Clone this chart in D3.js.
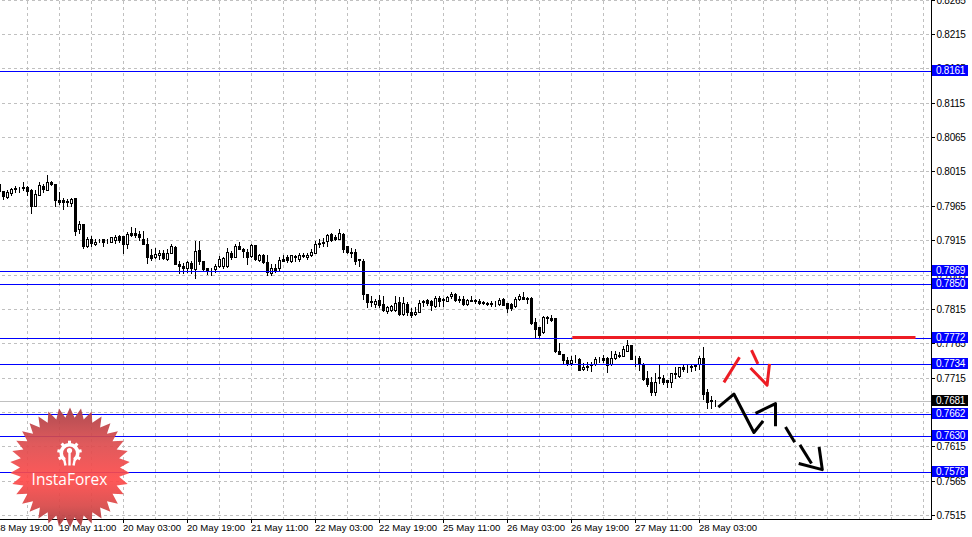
<!DOCTYPE html>
<html><head><meta charset="utf-8">
<script src="https://cdnjs.cloudflare.com/ajax/libs/d3/7.9.0/d3.min.js"></script>
<style>html,body{margin:0;background:#fff;overflow:hidden}svg{display:block}text{font-family:"Liberation Sans",Arial,sans-serif}</style>
</head><body><svg id="c" width="972" height="537"></svg>
<script>
// hourly candles, price x 10000
const opens=[7987,7986,7978,7984,7991,7990,7993,7993,7988,7964,7980,7994,7988,8000,7997,7974,7973,7972,7969,7976,7931,7939,7906,7916,7910,7915,7916,7913,7913,7915,7921,7921,7910,7925,7926,7924,7917,7910,7893,7890,7893,7897,7888,7897,7905,7881,7877,7874,7882,7873,7901,7885,7874,7872,7873,7877,7877,7877,7897,7891,7907,7902,7898,7892,7908,7886,7894,7883,7867,7874,7874,7887,7890,7884,7892,7887,7893,7890,7893,7896,7910,7912,7914,7924,7920,7917,7924,7906,7898,7898,7887,7885,7837,7827,7822,7828,7822,7812,7814,7813,7825,7807,7822,7810,7807,7811,7825,7828,7826,7819,7831,7829,7827,7833,7836,7830,7829,7822,7828,7828,7826,7825,7823,7823,7823,7822,7829,7823,7822,7819,7830,7832,7831,7831,7796,7788,7781,7803,7802,7801,7754,7749,7741,7736,7741,7742,7728,7732,7735,7735,7741,7744,7744,7735,7743,7748,7747,7754,7762,7744,7744,7735,7715,7709,7694,7716,7714,7711,7708,7721,7717,7730,7731,7732,7733,7735,7744,7694,7683,7681];
const highs=[7998,7987,7988,7991,7994,7993,7999,7994,7989,7988,8000,7997,8010,8001,7997,7985,7977,7975,7977,7976,7943,7939,7919,7921,7916,7917,7917,7917,7920,7922,7923,7921,7927,7934,7932,7929,7929,7918,7902,7903,7901,7901,7902,7910,7906,7884,7882,7884,7884,7914,7914,7885,7875,7875,7881,7892,7891,7904,7899,7909,7912,7903,7902,7910,7908,7895,7895,7893,7881,7881,7891,7893,7893,7894,7894,7896,7897,7896,7902,7914,7917,7918,7924,7925,7922,7931,7925,7907,7903,7902,7888,7887,7837,7834,7829,7835,7834,7819,7821,7834,7832,7832,7825,7816,7817,7828,7828,7829,7828,7833,7833,7831,7834,7840,7838,7833,7834,7829,7834,7830,7829,7827,7825,7826,7827,7831,7831,7823,7824,7832,7837,7840,7832,7832,7801,7789,7804,7804,7806,7802,7766,7750,7745,7746,7748,7743,7736,7737,7738,7745,7745,7748,7745,7754,7754,7752,7761,7769,7762,7746,7746,7736,7724,7716,7722,7735,7719,7712,7722,7731,7731,7734,7733,7733,7734,7746,7759,7698,7688,7682];
const lows=[7985,7975,7977,7981,7985,7985,7988,7981,7955,7964,7980,7985,7988,7995,7965,7968,7961,7964,7964,7922,7926,7904,7905,7906,7908,7913,7907,7911,7912,7911,7912,7897,7904,7921,7920,7915,7909,7882,7886,7889,7887,7887,7886,7896,7880,7867,7867,7869,7867,7860,7881,7872,7866,7864,7869,7876,7875,7876,7888,7890,7902,7891,7880,7891,7886,7885,7882,7864,7865,7869,7872,7884,7883,7883,7884,7885,7891,7887,7892,7896,7905,7906,7906,7914,7915,7916,7898,7897,7891,7880,7877,7830,7817,7819,7818,7818,7812,7809,7812,7812,7806,7806,7806,7803,7806,7810,7819,7820,7813,7818,7819,7819,7826,7831,7826,7825,7821,7821,7826,7823,7822,7822,7820,7819,7819,7821,7820,7811,7813,7817,7828,7830,7823,7793,7772,7772,7780,7795,7798,7752,7749,7735,7734,7734,7738,7726,7726,7726,7725,7734,7737,7737,7723,7734,7742,7745,7746,7753,7742,7732,7726,7712,7703,7690,7690,7707,7706,7701,7702,7714,7716,7724,7723,7724,7726,7727,7684,7670,7670,7673];
const closes=[7997,7979,7985,7990,7990,7989,7991,7987,7964,7982,7995,7990,7999,7997,7974,7970,7970,7970,7975,7929,7939,7906,7916,7911,7913,7915,7913,7912,7919,7919,7915,7910,7924,7922,7922,7919,7910,7891,7889,7895,7897,7889,7896,7906,7881,7877,7874,7883,7875,7899,7884,7873,7872,7871,7877,7888,7889,7898,7890,7907,7902,7899,7891,7908,7887,7893,7883,7869,7874,7871,7886,7885,7886,7893,7891,7894,7892,7894,7898,7909,7911,7911,7923,7915,7917,7925,7902,7898,7897,7885,7886,7837,7825,7825,7826,7821,7814,7817,7819,7823,7807,7824,7811,7806,7811,7823,7826,7823,7821,7831,7827,7828,7832,7837,7828,7828,7822,7828,7827,7827,7824,7823,7822,7822,7823,7828,7821,7816,7816,7830,7834,7830,7829,7795,7785,7777,7803,7802,7799,7754,7749,7741,7735,7741,7741,7726,7731,7731,7734,7742,7741,7740,7734,7743,7749,7747,7756,7762,7742,7743,7735,7713,7706,7694,7709,7715,7709,7708,7721,7720,7730,7728,7730,7730,7732,7743,7691,7680,7681,7681];

const priceTicks=[8265,8215,8165,8115,8065,8015,7965,7915,7865,7815,7765,7715,7665,7615,7565,7515];
const blueLevels=[8161,7850.49,7772,7734.3,7662,7630,7578,7869.45];
const lastPrice=7681;
const timeLabels=["18 May 19:00","19 May 11:00","20 May 03:00","20 May 19:00","21 May 11:00","22 May 03:00","22 May 19:00","25 May 11:00","26 May 03:00","26 May 19:00","27 May 11:00","28 May 03:00"];
// hand-drawn annotations: [bar index, price x 10000]
const redLevel=[[143.2,7773.3],[229,7773.3]];
const redStrokes=[
 [[181.1,7708],[185.0,7744.5]],
 [[188.0,7755],[189.6,7735]],
 [[187.75,7729],[191.9,7704],[192.5,7735]]];
const blackStrokes=[
 [[179.7,7672],[183.6,7691],[188.6,7635],[190.9,7652]],
 [[189,7663],[194,7677],[194,7644]],
 [[196.5,7643],[198.8,7621]],
 [[200.1,7617],[203,7590]],
 [[199.8,7590],[205.7,7581],[204.9,7614]]];

const W=972,H=537,axisX=931,axisY=519;
const x=d3.scaleLinear().domain([0,1]).range([-1,3]);
const y=d3.scaleLinear().domain([8215,7515]).range([34,515]);
const py=v=>Math.round(y(v));
const svg=d3.select("#c");
svg.append("rect").attr("width",W).attr("height",H).attr("fill","#fff");
const crisp=svg.append("g").attr("shape-rendering","crispEdges");

// grid
const vGridBars=d3.range(-1,240,8).filter(i=>x(i)<axisX&&x(i)>0);
crisp.append("g").selectAll("line").data(vGridBars).join("line")
 .attr("x1",d=>x(d)+.5).attr("x2",d=>x(d)+.5).attr("y1",0).attr("y2",axisY)
 .attr("stroke","#c0c0c0").attr("stroke-dasharray","3,3").attr("stroke-dashoffset",5);
crisp.append("g").selectAll("line").data(priceTicks).join("line")
 .attr("x1",0).attr("x2",axisX).attr("y1",d=>py(d)+.5).attr("y2",d=>py(d)+.5)
 .attr("stroke","#c0c0c0").attr("stroke-dasharray","3,3").attr("stroke-dashoffset",4);

// levels
crisp.append("line").attr("x1",0).attr("x2",axisX).attr("y1",py(lastPrice)+.5).attr("y2",py(lastPrice)+.5).attr("stroke","#c0c0c0");

// candles
const idx=d3.range(opens.length);
crisp.append("g").selectAll("line").data(idx).join("line")
 .attr("x1",i=>x(i)+.5).attr("x2",i=>x(i)+.5)
 .attr("y1",i=>py(highs[i])).attr("y2",i=>py(lows[i])+1)
 .attr("stroke","#000");
crisp.append("g").selectAll("rect").data(idx).join("rect")
 .attr("x",i=>x(i)-.5).attr("width",2)
 .attr("y",i=>py(Math.max(opens[i],closes[i]))+.5)
 .attr("height",i=>Math.max(0,py(Math.min(opens[i],closes[i]))-py(Math.max(opens[i],closes[i]))))
 .attr("fill",i=>closes[i]>=opens[i]?"#fff":"#000").attr("stroke","#000");

crisp.append("g").selectAll("line").data(blueLevels).join("line")
 .attr("x1",0).attr("x2",axisX).attr("y1",d=>py(d)+.5).attr("y2",d=>py(d)+.5).attr("stroke","#0000ff");

// annotations
const ln=d3.line().x(d=>x(d[0])+.5).y(d=>y(d[1]));
svg.append("path").attr("d",ln(redLevel)).attr("fill","none").attr("stroke","#ed1c24").attr("stroke-width",3);
const ann=svg.append("g").attr("fill","none").attr("stroke-width",3).attr("stroke-linejoin","round");
ann.selectAll(".r").data(redStrokes).join("path").attr("class","r").attr("d",ln).attr("stroke","#ed1c24");
ann.selectAll(".b").data(blackStrokes).join("path").attr("class","b").attr("d",ln).attr("stroke","#000");

// axes
const fmt=d=>(d/10000).toFixed(4);
const ay=d3.axisRight(y).tickValues(priceTicks).tickSize(3).tickPadding(1).tickFormat(fmt);
const gy=svg.append("g").attr("transform",`translate(${axisX},0)`).attr("shape-rendering","crispEdges").call(ay);
gy.select(".domain").attr("d",`M.5,0V${axisY+.5}`).attr("stroke","#000");
gy.selectAll(".tick line").attr("x1",1).attr("x2",4).attr("y1",0).attr("y2",0);
gy.selectAll(".tick").attr("transform",d=>`translate(0,${py(d)+.5})`);
gy.selectAll("text").attr("x",5.5).attr("dy","0.34em").attr("font-size",10).attr("letter-spacing","-0.25").attr("fill","#000").attr("font-family",null);

const tickBars=timeLabels.map((_,k)=>-1+16*k);
const ax=d3.axisBottom(x).tickValues(tickBars).tickSize(3).tickFormat((d,k)=>timeLabels[k]);
const gx=svg.append("g").attr("transform",`translate(0,${axisY})`).attr("shape-rendering","crispEdges").call(ax);
gx.select(".domain").attr("d",`M0,.5H${axisX+1}`).attr("stroke","#000");
gx.selectAll(".tick").attr("transform",d=>`translate(${x(d)+.5},0)`);
gx.selectAll(".tick line").attr("y1",1).attr("y2",4);
gx.selectAll("text").attr("text-anchor","start").attr("x",-.5).attr("y",5).attr("dy","0.71em").attr("font-size",9.6).attr("fill","#000").attr("font-family",null);

// price tags
const tag=(v,bg)=>{const g=svg.append("g");
 g.append("rect").attr("x",932).attr("y",py(v)-6).attr("width",36).attr("height",11).attr("fill",bg).attr("shape-rendering","crispEdges");
 g.append("text").attr("x",936).attr("y",py(v)-.5).attr("dy","0.36em").attr("font-size",10).attr("letter-spacing","-0.25").attr("fill","#fff").text(fmt(v));};
blueLevels.forEach(v=>tag(v,"#0000ff"));
tag(lastPrice,"#000");

// watermark
const defs=svg.append("defs");
const gr=defs.append("linearGradient").attr("id","wm").attr("x1",0).attr("y1",0).attr("x2",0).attr("y2",1);
[[0,"#a83c42"],[.3,"#dc4c4e"],[.6,"#ff4a4a"],[.82,"#d84646"],[1,"#a4383c"]].forEach(s=>gr.append("stop").attr("offset",s[0]).attr("stop-color",s[1]));
const cx=70,cy=467.5,n=34;
const starPts=d3.range(n*2).map(k=>[k*Math.PI/n,k%2?50:60]);
const wm=svg.append("g").attr("transform",`translate(${cx},${cy})`);
wm.append("path").attr("d",d3.lineRadial().curve(d3.curveLinearClosed)(starPts)).attr("fill","url(#wm)").attr("opacity",.92);
const gear=svg.append("g").attr("transform","translate(69.5,453)").attr("fill","none").attr("stroke","#fff");
const ring=d3.arc().innerRadius(6.5).outerRadius(10).startAngle(-Math.PI*.8).endAngle(Math.PI*.8);
gear.append("path").attr("d",ring).attr("fill","#fff").attr("stroke","none");
const teeth=d3.range(-3,4).map(k=>k*Math.PI*.22);
gear.selectAll(".t").data(teeth).join("line").attr("class","t")
 .attr("x1",a=>9*Math.sin(a)).attr("y1",a=>-9*Math.cos(a)).attr("x2",a=>12.3*Math.sin(a)).attr("y2",a=>-12.3*Math.cos(a)).attr("stroke-width",3);
gear.append("circle").attr("r",2.6).attr("cy",-2.5).attr("fill","#fff").attr("stroke","none");
gear.append("path").attr("d","M0,-2V12.5M-5.6,5L-4,12.5M5.6,5L4,12.5").attr("stroke-width",2.4);
svg.append("text").attr("x",69.5).attr("y",484.5).attr("text-anchor","middle").attr("fill","#fff").attr("font-size",15.5).style("font-family","'Open Sans',sans-serif").text("InstaForex");
</script></body></html>
